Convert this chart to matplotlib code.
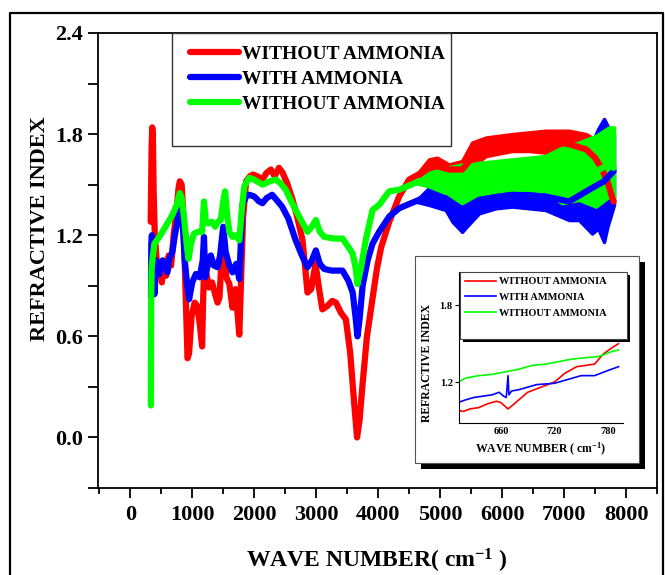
import matplotlib
matplotlib.use('Agg')
import matplotlib.pyplot as plt
from matplotlib.patches import Rectangle
from matplotlib.lines import Line2D
from matplotlib.ticker import MultipleLocator

# main spectrum (centre lines)
red_x = [330, 345, 355, 365, 378, 395, 420, 450, 480, 510, 540, 580, 620, 660, 700, 740, 780, 800, 830, 860,
         890, 925, 950, 990, 1040, 1080, 1120, 1160, 1175, 1195, 1230, 1270, 1320, 1370, 1410, 1440, 1480, 1510,
         1550, 1600, 1650, 1700, 1740, 1760, 1790, 1820, 1870, 1930, 1980, 2050, 2130, 2200, 2270, 2330, 2400,
         2460, 2530, 2620, 2700, 2780, 2830, 2860, 2920, 2990, 3040, 3100, 3180, 3260, 3320, 3400, 3480, 3550,
         3610, 3660, 3700, 3750, 3820, 3900, 3980, 4050, 4180, 4340, 4500, 4700, 4820, 4950, 5145, 5355, 5450,
         5516, 5742, 6161, 6430, 6699, 7081, 7355, 7500, 7600, 7700, 7780, 7800]
red_y = [1.28, 1.72, 1.84, 1.80, 1.45, 1.22, 1.08, 0.97, 1.02, 0.92, 1.05, 0.96, 1.08, 1.02, 1.20, 1.32, 1.48, 1.52,
         1.50, 1.30, 0.90, 0.47, 0.50, 0.72, 0.80, 0.78, 0.68, 0.54, 0.80, 1.03, 0.97, 0.89, 0.92, 0.85, 0.80, 0.83,
         1.10, 1.19, 0.95, 0.91, 0.77, 0.88, 0.70, 0.61, 0.95, 1.30, 1.52, 1.55, 1.56, 1.55, 1.53, 1.57, 1.59, 1.55,
         1.60, 1.57, 1.51, 1.41, 1.30, 1.17, 0.98, 0.86, 0.88, 1.03, 0.90, 0.76, 0.78, 0.81, 0.80, 0.74, 0.70, 0.50,
         0.22, 0.00, 0.10, 0.32, 0.60, 0.80, 1.00, 1.13, 1.28, 1.43, 1.53, 1.57, 1.60, 1.61, 1.59, 1.59, 1.63,
         1.68, 1.73, 1.75, 1.75, 1.76, 1.74, 1.71, 1.66, 1.60, 1.52, 1.42, 1.40]

blue_x = [335, 340, 350, 365, 390, 420, 470, 520, 550, 600, 630, 680, 720, 760, 790, 820, 850, 880, 920, 950,
          1000, 1060, 1120, 1170, 1190, 1210, 1250, 1300, 1350, 1410, 1450, 1500, 1540, 1600, 1650, 1710, 1760,
          1790, 1810, 1870, 1920, 2000, 2080, 2134, 2200, 2290, 2360, 2450, 2550, 2670, 2770, 2860, 2930, 2995,
          3060, 3130, 3250, 3425, 3520, 3590, 3640, 3667, 3700, 3750, 3830, 3910, 4016, 4177, 4339, 4661, 4820,
          5090, 5355, 5629, 6161, 6699, 7081, 7452, 7645, 7800]
blue_y = [0.83, 1.15, 1.20, 1.05, 0.85, 1.05, 0.97, 1.05, 1.03, 0.98, 1.06, 1.10, 1.20, 1.28, 1.35, 1.37, 1.25,
          1.05, 0.90, 0.82, 0.92, 0.97, 0.95, 1.05, 1.19, 0.95, 1.02, 1.08, 1.02, 1.01, 1.08, 1.25, 1.10, 1.02,
          0.98, 1.03, 0.94, 1.20, 1.38, 1.43, 1.44, 1.43, 1.40, 1.39, 1.42, 1.44, 1.41, 1.37, 1.30, 1.17, 1.08,
          1.01, 1.05, 1.11, 1.03, 1.00, 0.99, 0.99, 0.93, 0.86, 0.70, 0.60, 0.70, 0.90, 1.05, 1.15, 1.22, 1.31,
          1.36, 1.41, 1.43, 1.42, 1.35, 1.41, 1.44, 1.43, 1.40, 1.48, 1.52, 1.58]

green_x = [333, 338, 345, 360, 390, 450, 520, 600, 680, 750, 800, 830, 870, 910, 940, 980, 1030, 1100, 1160,
           1190, 1220, 1260, 1320, 1370, 1420, 1460, 1500, 1530, 1570, 1600, 1650, 1700, 1760, 1800, 1840, 1920,
           2000, 2134, 2250, 2350, 2420, 2510, 2600, 2670, 2770, 2860, 2930, 2995, 3060, 3130, 3300, 3425, 3520,
           3590, 3640, 3667, 3720, 3800, 3910, 4016, 4177, 4339, 4661, 4820, 5090, 5355, 5629, 6161, 6699, 6968,
           7242, 7516, 7726, 7800]
green_y = [0.19, 0.80, 1.00, 1.06, 1.15, 1.18, 1.22, 1.27, 1.32, 1.38, 1.45, 1.42, 1.30, 1.15, 1.06, 1.15, 1.21,
           1.22, 1.22, 1.40, 1.28, 1.27, 1.28, 1.25, 1.28, 1.29, 1.40, 1.46, 1.30, 1.22, 1.19, 1.20, 1.17, 1.35,
           1.49, 1.54, 1.53, 1.50, 1.52, 1.53, 1.51, 1.47, 1.40, 1.35, 1.28, 1.22, 1.25, 1.29, 1.22, 1.19, 1.18,
           1.18, 1.13, 1.09, 1.00, 0.91, 1.00, 1.17, 1.35, 1.38, 1.46, 1.47, 1.52, 1.53, 1.52, 1.50, 1.54, 1.56,
           1.57, 1.56, 1.58, 1.58, 1.62, 1.60]

# noisy region envelopes
red_band_x = [4600, 4820, 4950, 5145, 5355, 5516, 5742, 6161, 6430, 6699, 7081, 7355, 7450]
red_band_lo = [1.55, 1.56, 1.57, 1.56, 1.55, 1.61, 1.67, 1.70, 1.70, 1.69, 1.66, 1.62, 1.60]
red_band_hi = [1.55, 1.65, 1.66, 1.62, 1.64, 1.75, 1.78, 1.80, 1.81, 1.82, 1.82, 1.80, 1.78]

blue_band_x = [4600, 4820, 5090, 5200, 5355, 5450, 5629, 5900, 6161, 6430, 6699, 7081, 7242, 7452, 7550, 7645,
               7700, 7806]
blue_band_lo = [1.40, 1.38, 1.35, 1.28, 1.22, 1.26, 1.33, 1.36, 1.37, 1.36, 1.35, 1.29, 1.29, 1.21, 1.24, 1.16,
                1.25, 1.38]
blue_band_hi = [1.40, 1.48, 1.49, 1.48, 1.47, 1.48, 1.50, 1.51, 1.52, 1.52, 1.52, 1.49, 1.55, 1.75, 1.83, 1.89,
                1.85, 1.80]

green_band_x = [4600, 4820, 5090, 5230, 5355, 5500, 5629, 5900, 6161, 6430, 6699, 6968, 7242, 7516, 7726, 7806]
green_band_lo = [1.51, 1.49, 1.45, 1.42, 1.39, 1.42, 1.44, 1.46, 1.47, 1.47, 1.46, 1.39, 1.41, 1.37, 1.43, 1.40]
green_band_hi = [1.51, 1.57, 1.60, 1.61, 1.62, 1.62, 1.63, 1.64, 1.65, 1.66, 1.67, 1.72, 1.75, 1.79, 1.84, 1.84]

# inset (zoomed region)
in_red_x = [612, 618, 625, 635, 645, 655, 660, 668, 675, 690, 705, 720, 732, 745, 755, 765, 775, 785, 792]
in_red_y = [0.98, 0.97, 0.99, 1.00, 1.03, 1.05, 1.04, 0.99, 1.03, 1.12, 1.16, 1.20, 1.27, 1.32, 1.33, 1.34, 1.42,
            1.47, 1.50]
in_blue_x = [612, 620, 630, 640, 650, 658, 663, 666, 668, 669, 672, 680, 690, 700, 720, 735, 750, 765, 780, 792]
in_blue_y = [1.04, 1.06, 1.08, 1.09, 1.10, 1.12, 1.09, 1.08, 1.25, 1.10, 1.13, 1.14, 1.16, 1.18, 1.19, 1.22,
             1.25, 1.25, 1.29, 1.32]
in_green_x = [612, 620, 635, 650, 665, 680, 695, 710, 725, 740, 755, 770, 785, 792]
in_green_y = [1.20, 1.23, 1.25, 1.26, 1.28, 1.30, 1.33, 1.34, 1.36, 1.38, 1.39, 1.40, 1.44, 1.45]

labels = ['WITHOUT AMMONIA', 'WITH AMMONIA', 'WITHOUT AMMONIA']
colors = ['#ff0000', '#0000ff', '#00ff00']

plt.rcParams['font.family'] = ['Liberation Serif', 'DejaVu Serif']
plt.rcParams['font.weight'] = 'bold'
plt.rcParams['mathtext.fontset'] = 'custom'
plt.rcParams['mathtext.rm'] = 'Liberation Serif:bold'
plt.rcParams['mathtext.it'] = 'Liberation Serif:bold'
plt.rcParams['mathtext.default'] = 'regular'

W, H = 665, 575
fig = plt.figure(figsize=(W / 100, H / 100), dpi=100)


def fx(px):
	return px / W


def fy(py):
	return 1 - py / H


# outer frame
fig.add_artist(Line2D([fx(10), fx(10), fx(663), fx(663)], [0, fy(13), fy(13), 0],
                      transform=fig.transFigure, color='black', lw=1.6))

ax = fig.add_axes([fx(98), fy(488), fx(657) - fx(98), fy(33) - fy(488)])
ax.set_zorder(0)
series = [(red_x, red_y, red_band_x, red_band_lo, red_band_hi),
          (blue_x, blue_y, blue_band_x, blue_band_lo, blue_band_hi),
          (green_x, green_y, green_band_x, green_band_lo, green_band_hi)]
handles = []
for (xs, ys, bx, blo, bhi), c, lab in zip(series, colors, labels):
	ax.fill_between(bx, blo, bhi, color=c, lw=2.5, edgecolor=c)
	h, = ax.plot(xs, ys, color=c, lw=4.5, solid_joinstyle='round', solid_capstyle='round', label=lab)
	handles.append(h)

ax.set_xlim(-520, 8500)
ax.set_ylim(-0.3, 2.4)
ax.xaxis.set_major_locator(MultipleLocator(1000))
ax.xaxis.set_minor_locator(MultipleLocator(500))
ax.yaxis.set_major_locator(MultipleLocator(0.6))
ax.yaxis.set_minor_locator(MultipleLocator(0.3))
ax.set_xticks(range(0, 8001, 1000))
ax.set_yticks([0.0, 0.6, 1.2, 1.8, 2.4])
ax.set_yticklabels(['0.0', '0.6', '1.2', '1.8', '2.4'])
ax.tick_params(which='major', direction='out', length=7, width=1.3, labelsize=16, pad=4)
ax.tick_params(axis='x', which='major', pad=5)
ax.tick_params(axis='x', which='minor', direction='out', length=4, width=1.3)
ax.tick_params(axis='y', which='minor', direction='out', length=7, width=1.3)
for s in ax.spines.values():
	s.set_linewidth(1.3)

ax.set_xlabel('WAVE NUMBER( cm$^{-1}$ )', fontsize=17, fontweight='bold')
ax.set_ylabel('REFRACTIVE INDEX', fontsize=16, fontweight='bold')
ax.xaxis.set_label_coords(0.498, -0.13)
ax.yaxis.set_label_coords(-0.085, 0.57)

# main legend box
fig.add_artist(Rectangle((fx(172), fy(146)), fx(451) - fx(172), fy(33) - fy(146),
                         transform=fig.transFigure, fill=False, edgecolor='#333333', lw=1.0, zorder=1))
leg = fig.legend(handles=handles, loc='upper left', bbox_to_anchor=(fx(190), fy(45)), frameon=False,
                 prop={'family': 'Liberation Serif', 'weight': 'bold', 'size': 14},
                 handlelength=2.5, handletextpad=0.15, labelspacing=0.38, borderpad=0, borderaxespad=0)
leg.set_zorder(1)

# inset panel with shadow
fig.add_artist(Rectangle((fx(421), fy(469)), fx(645) - fx(421), fy(262) - fy(469),
                         transform=fig.transFigure, facecolor='black', edgecolor='none', zorder=2))
fig.add_artist(Rectangle((fx(415), fy(463)), fx(639) - fx(415), fy(256) - fy(463),
                         transform=fig.transFigure, facecolor='white', edgecolor='#555555', lw=0.8, zorder=2))

iax = fig.add_axes([fx(459), fy(423), fx(623) - fx(459), fy(272) - fy(423)])
iax.set_zorder(3)
iax.set_facecolor('none')
for xs, ys, c in [(in_red_x, in_red_y, colors[0]), (in_blue_x, in_blue_y, colors[1]),
                  (in_green_x, in_green_y, colors[2])]:
	iax.plot(xs, ys, color=c, lw=1.2)
iax.set_xlim(613, 797)
iax.set_ylim(0.88, 2.06)
iax.set_xticks([660, 720, 780])
iax.set_yticks([1.2, 1.8])
iax.set_yticklabels(['1.2', '1.8'])
iax.spines['top'].set_visible(False)
iax.spines['right'].set_visible(False)
for s in ['left', 'bottom']:
	iax.spines[s].set_linewidth(0.8)
iax.tick_params(axis='y', direction='out', length=3, width=0.8, labelsize=7.5, pad=1.5)
iax.tick_params(axis='x', direction='out', length=0, width=0.8, labelsize=7.5, pad=3)
iax.set_xlabel('WAVE NUMBER ( cm$^{-1}$)', fontsize=8.5, fontweight='bold', labelpad=0)
iax.set_ylabel('REFRACTIVE INDEX', fontsize=8.5, fontweight='bold', labelpad=2)
iax.xaxis.set_label_coords(0.5, -0.12)
iax.yaxis.set_label_coords(-0.16, 0.4)

# inset legend box with shadow
fig.add_artist(Rectangle((fx(463), fy(342)), fx(630) - fx(463), fy(275) - fy(342),
                         transform=fig.transFigure, facecolor='black', edgecolor='none', zorder=4))
fig.add_artist(Rectangle((fx(460), fy(339)), fx(627) - fx(460), fy(272) - fy(339),
                         transform=fig.transFigure, facecolor='white', edgecolor='#444444', lw=0.8, zorder=4))
in_handles = [Line2D([], [], color=c, lw=1.2) for c in colors]
ileg = fig.legend(handles=in_handles, labels=labels, loc='upper left', bbox_to_anchor=(fx(465), fy(277)),
                  frameon=False, prop={'family': 'Liberation Serif', 'weight': 'bold', 'size': 7.5},
                  handlelength=3.0, handletextpad=0.25, labelspacing=0.62, borderpad=0, borderaxespad=0)
ileg.set_zorder(5)

fig.savefig('out.png', dpi=100)
